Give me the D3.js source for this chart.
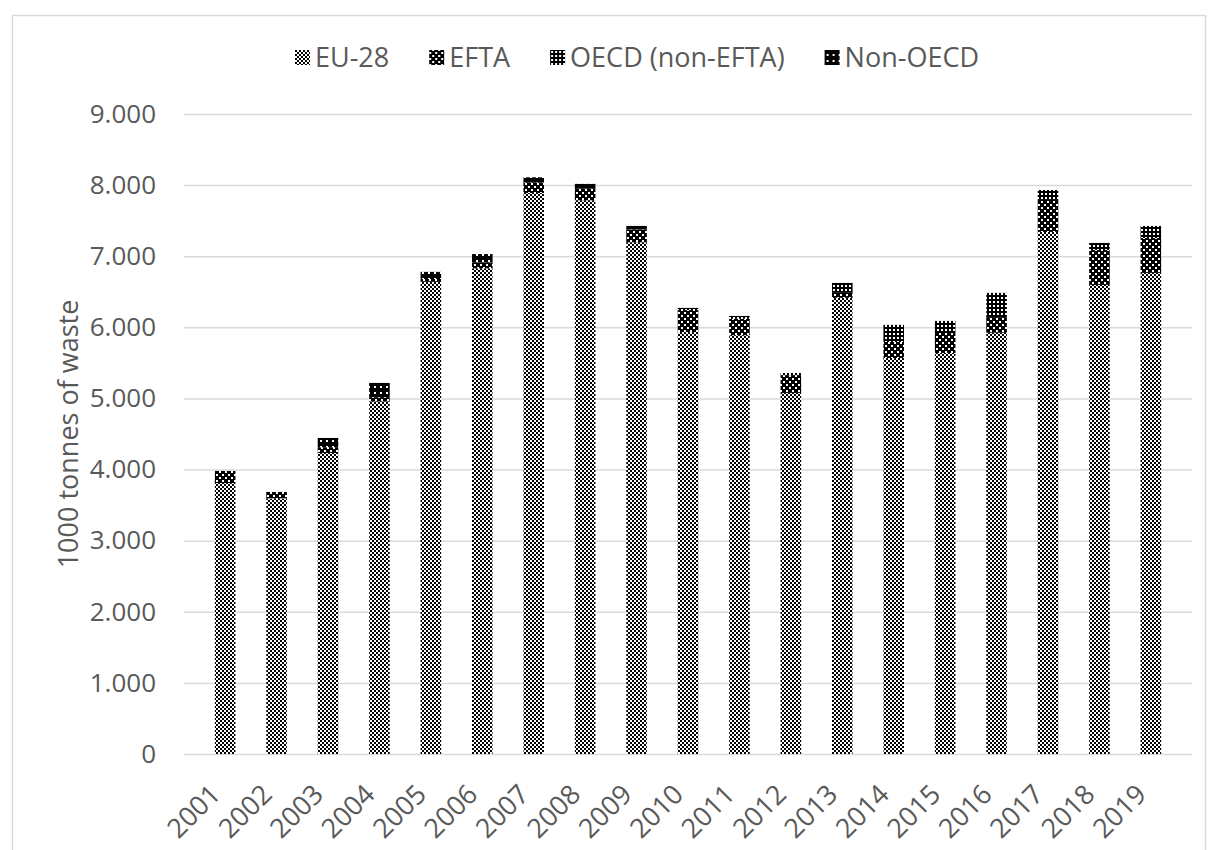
<!DOCTYPE html>
<html lang="en">
<head>
  <meta charset="UTF-8">
  <title>Waste by destination</title>
  <script src="https://d3js.org/d3.v7.min.js"></script>
  <style>
    body { margin: 0; padding: 0; background: #fff; font-family: "Open Sans", sans-serif; }
    svg { display: block; }
    text { fill: #595959; }
  </style>
</head>
<body>
  <div id="chart"></div>

  <script>
    const width = 1211;
    const height = 850;

    // values in 1000 tonnes
    const years = ["2001","2002","2003","2004","2005","2006","2007","2008","2009","2010",
                   "2011","2012","2013","2014","2015","2016","2017","2018","2019"];
    const eu28    = [3810, 3595, 4234, 4958, 6640, 6830, 7890, 7787, 7196, 5933,
                     5890, 5078, 6415, 5569, 5640, 5924, 7342, 6597, 6766];
    const efta    = [170, 90, 80, 60, 40, 80, 150, 170, 180, 310,
                     230, 250, 70, 225, 280, 220, 450, 490, 490];
    const oecd    = [0, 0, 0, 0, 0, 0, 0, 0, 0, 30,
                     40, 30, 140, 240, 170, 340, 140, 100, 170];
    const nonOecd = [0, 0, 130, 200, 100, 120, 70, 60, 50, 0,
                     0, 0, 0, 0, 0, 0, 0, 0, 0];
    const seriesNames = ["EU-28", "EFTA", "OECD (non-EFTA)", "Non-OECD"];
    const yTicks = [0, 1000, 2000, 3000, 4000, 5000, 6000, 7000, 8000, 9000];

    const keys = ["eu", "efta", "oecd", "non"];
    const rows = years.map((y, i) => ({
      year: y, eu: eu28[i], efta: efta[i], oecd: oecd[i], non: nonOecd[i]
    }));

    const svg = d3.select("#chart")
      .append("svg")
      .attr("width", width)
      .attr("height", height);

    // fill patterns, black on white like the original
    const defs = svg.append("defs");
    function pattern(id, size, bg, fg, cells) {
      const p = defs.append("pattern")
        .attr("id", id)
        .attr("patternUnits", "userSpaceOnUse")
        .attr("width", size)
        .attr("height", size);
      p.append("rect").attr("width", size).attr("height", size).attr("fill", bg);
      cells.forEach(c => {
        p.append("rect").attr("x", c[0]).attr("y", c[1])
          .attr("width", c[2]).attr("height", c[3]).attr("fill", fg);
      });
    }
    pattern("p-eu", 4, "#fff", "#000", [[0, 0, 2, 2], [2, 2, 2, 2]]);
    pattern("p-efta", 6, "#000", "#fff", [[0, 0, 2, 2], [3, 3, 2, 2]]);
    pattern("p-oecd", 4, "#000", "#fff", [[1, 1, 2, 2]]);
    pattern("p-non", 6, "#000", "#fff", [[2, 2, 2, 2]]);
    const fills = { eu: "url(#p-eu)", efta: "url(#p-efta)", oecd: "url(#p-oecd)", non: "url(#p-non)" };

    // chart frame
    svg.append("rect")
      .attr("x", 12.5).attr("y", 15.5)
      .attr("width", 1193).attr("height", 900)
      .attr("fill", "none")
      .attr("stroke", "#d9d9d9")
      .attr("stroke-width", 1.5);

    const x = d3.scaleBand()
      .domain(years)
      .range([184, 1192])
      .padding(0.6);

    const y = d3.scaleLinear()
      .domain([0, 9000])
      .range([754, 114]);

    const locale = d3.formatLocale({ decimal: ",", thousands: ".", grouping: [3], currency: ["", ""] });
    const fmt = locale.format(",");

    // gridlines + y labels
    const yAxis = d3.axisLeft(y)
      .tickValues(yTicks)
      .tickSize(-(1192 - 184))
      .tickFormat(fmt)
      .tickPadding(28);

    const gy = svg.append("g")
      .attr("transform", "translate(184,0)")
      .call(yAxis);
    gy.select(".domain").remove();
    gy.selectAll(".tick line")
      .attr("stroke", "#d9d9d9")
      .attr("stroke-width", 1.5);
    gy.selectAll(".tick text")
      .style("font-family", "'Open Sans', sans-serif")
      .style("font-size", "26px")
      .attr("fill", "#595959");

    // stacked bars
    const stacked = d3.stack().keys(keys)(rows);
    svg.append("g")
      .selectAll("g")
      .data(stacked)
      .enter()
      .append("g")
      .attr("fill", d => fills[d.key])
      .selectAll("rect")
      .data(d => d)
      .enter()
      .append("rect")
      .attr("x", d => x(d.data.year))
      .attr("width", x.bandwidth())
      .attr("y", d => y(d[1]))
      .attr("height", d => y(d[0]) - y(d[1]));

    // x labels, slanted
    svg.append("g")
      .selectAll("text")
      .data(years)
      .enter()
      .append("text")
      .attr("transform", d => `translate(${x(d) + x.bandwidth() / 2 - 3},796) rotate(-45)`)
      .attr("text-anchor", "end")
      .style("font-size", "27px")
      .text(d => d);

    // y title
    svg.append("text")
      .attr("transform", "translate(78,434) rotate(-90)")
      .attr("text-anchor", "middle")
      .style("font-size", "27px")
      .text("1000 tonnes of waste");

    // legend
    const legend = svg.append("g").attr("transform", "translate(0,58)");
    let lx = 0;
    const items = legend.selectAll("g")
      .data(seriesNames)
      .enter()
      .append("g");
    items.append("rect")
      .attr("y", -8).attr("width", 15).attr("height", 15)
      .attr("fill", (d, i) => fills[keys[i]]);
    items.append("text")
      .attr("x", 20)
      .attr("dy", "0.35em")
      .style("font-size", "27px")
      .text(d => d);
    items.each(function() {
      const g = d3.select(this);
      const w = 20 + g.select("text").node().getComputedTextLength();
      g.attr("transform", `translate(${lx},0)`);
      lx += w + 40;
    });
    const total = lx - 40;
    legend.attr("transform", `translate(${637 - total / 2},58)`);
  </script>
</body>
</html>
